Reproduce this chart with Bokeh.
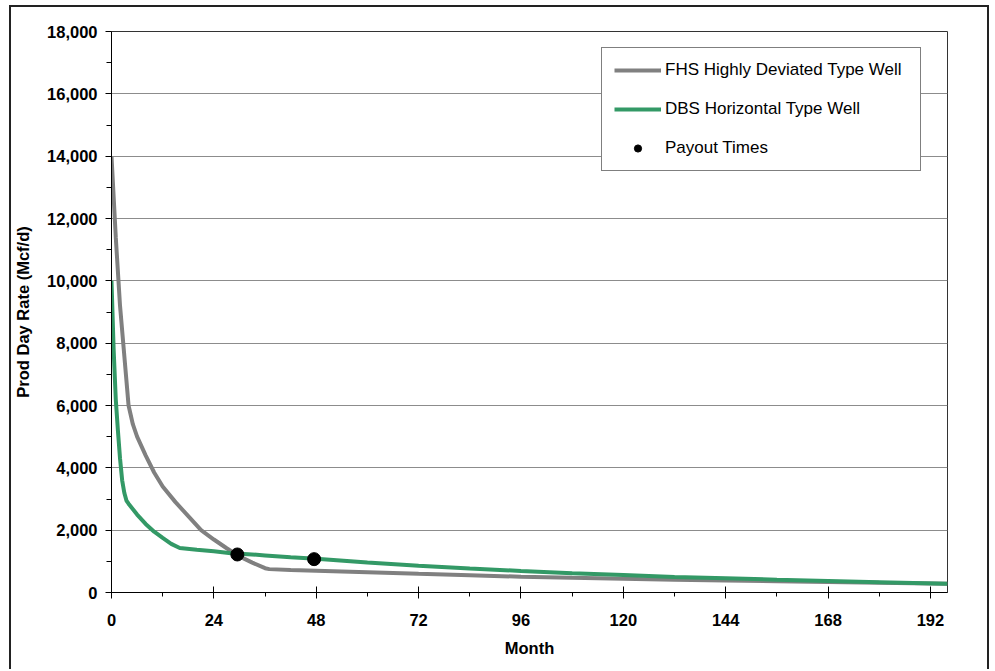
from bokeh.plotting import figure
from bokeh.models import FixedTicker, NumeralTickFormatter, Legend, LegendItem, Range1d
from bokeh.embed import file_html
from bokeh.resources import INLINE

# --- data ---
fhs_month = [0, 1, 2, 3, 4, 5, 6, 8, 10, 12, 15, 18, 21, 24, 27, 30, 33, 36, 37,
             42, 48, 60, 72, 84, 96, 108, 120, 132, 144, 156, 168, 180, 196]
fhs_rate = [14000, 11400, 9200, 7600, 6000, 5400, 5000, 4400, 3850, 3400, 2900, 2450,
            2000, 1700, 1420, 1160, 960, 780, 750, 720, 700, 650, 600, 555, 505, 470,
            440, 410, 385, 360, 335, 310, 280]

dbs_month = [0, 0.5, 1, 1.5, 2, 2.5, 3, 3.5, 4, 6, 8, 10, 12, 14, 16, 20, 24, 28, 32,
             36, 42, 48, 60, 72, 84, 96, 108, 120, 132, 144, 156, 168, 180, 196]
dbs_rate = [10000, 7800, 6200, 5200, 4300, 3600, 3200, 2950, 2850, 2500, 2200, 1950,
            1750, 1560, 1430, 1370, 1320, 1260, 1230, 1190, 1130, 1080, 960, 860, 770,
            690, 620, 560, 500, 460, 410, 370, 330, 280]

payout_month = [29.5, 47.5]
payout_rate = [1220, 1070]

x_ticks = [0, 24, 48, 72, 96, 120, 144, 168, 192]
x_minor = [12, 36, 60, 84, 108, 132, 156, 180]
y_ticks = [0, 2000, 4000, 6000, 8000, 10000, 12000, 14000, 16000, 18000]
y_minor = [1000, 3000, 5000, 7000, 9000, 11000, 13000, 15000, 17000]

FONT = "Liberation Sans"

p = figure(width=980, height=664, output_backend="svg", toolbar_location=None,
           x_range=Range1d(0, 196), y_range=Range1d(0, 18000),
           min_border_left=99, min_border_right=44, min_border_top=24,
           min_border_bottom=79)
p.styles = {"border-top": "2px solid #222", "border-left": "2px solid #222",
            "border-right": "2px solid #222", "margin-left": "9px",
            "margin-top": "5px"}
p.background_fill_color = "white"
p.border_fill_color = "white"
p.outline_line_color = "#333333"
p.outline_line_width = 1

# axes
p.xaxis.ticker = FixedTicker(ticks=x_ticks, minor_ticks=x_minor)
p.yaxis.ticker = FixedTicker(ticks=y_ticks, minor_ticks=y_minor)
p.yaxis.formatter = NumeralTickFormatter(format="0,0")
p.xaxis.axis_label = "Month"
p.yaxis.axis_label = "Prod Day Rate (Mcf/d)"
for ax in (p.xaxis, p.yaxis):
    ax.axis_line_color = "black"
    ax.axis_line_width = 1
    ax.major_tick_line_color = "black"
    ax.minor_tick_line_color = "black"
    ax.major_label_text_font = FONT
    ax.major_label_text_font_style = "bold"
    ax.major_label_text_font_size = "16.5px"
    ax.major_label_text_color = "black"
    ax.axis_label_text_font = FONT
    ax.axis_label_text_font_style = "bold"
    ax.axis_label_text_font_size = "16.5px"
    ax.axis_label_text_color = "black"
p.xaxis.major_tick_in = 6
p.xaxis.major_tick_out = 6
p.xaxis.minor_tick_in = 0
p.xaxis.minor_tick_out = 4
p.xaxis.major_label_standoff = 15
p.xaxis.axis_label_standoff = 10
p.yaxis.major_tick_in = 0
p.yaxis.major_tick_out = 6
p.yaxis.minor_tick_in = 0
p.yaxis.minor_tick_out = 5
p.yaxis.major_label_standoff = 8
p.yaxis.axis_label_standoff = 12

# grid
p.xgrid.grid_line_color = None
p.ygrid.grid_line_color = "#8c8c8c"
p.ygrid.grid_line_width = 1

# series
r1 = p.line(fhs_month, fhs_rate, line_color="#808080", line_width=4)
r2 = p.line(dbs_month, dbs_rate, line_color="#339966", line_width=4)
r3 = p.scatter(payout_month, payout_rate, size=13, fill_color="black",
               line_color="black", marker="circle")

legend = Legend(items=[
    LegendItem(label="FHS Highly Deviated Type Well", renderers=[r1]),
    LegendItem(label="DBS Horizontal Type Well", renderers=[r2]),
    LegendItem(label="Payout Times", renderers=[r3]),
], location=(490, 421))
legend.label_text_font = FONT
legend.label_text_font_size = "17px"
legend.label_text_color = "black"
legend.border_line_color = "black"
legend.border_line_width = 1
legend.background_fill_color = "white"
legend.background_fill_alpha = 1.0
legend.padding = 12
legend.spacing = 19
legend.glyph_height = 18
legend.label_height = 18
legend.glyph_width = 47
legend.label_standoff = 4
legend.label_width = 243
legend.margin = 0
p.add_layout(legend, "center")

open("out.html", "w").write(file_html(p, INLINE))
